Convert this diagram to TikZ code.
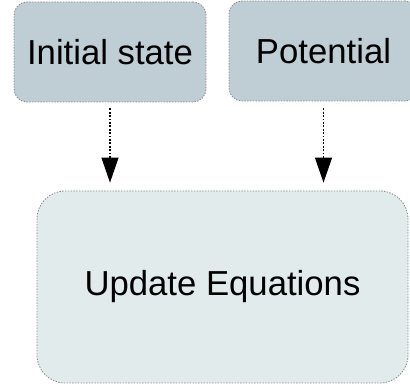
\documentclass[tikz,border=0pt]{standalone}
\usepackage{fontspec}
\setmainfont{Liberation Sans}
\usetikzlibrary{arrows.meta}
\definecolor{topfill}{HTML}{BFCDD5}
\definecolor{lowfill}{HTML}{E2EBEB}
\definecolor{edgegray}{HTML}{8A8A8A}
\tikzset{
  box/.style={draw=edgegray, line width=0.8pt, dash pattern=on 1.4pt off 1.4pt,
    inner sep=0pt, font=\fontsize{34.7}{40}\selectfont},
  topbox/.style={box, fill=topfill, rounded corners=13pt,
    minimum width=192pt, minimum height=100pt},
  lowbox/.style={box, fill=lowfill, rounded corners=28pt,
    minimum width=371pt, minimum height=192pt},
  flow/.style={line width=1.2pt, dash pattern=on 1.8pt off 1.6pt,
    -{Triangle[length=25pt,width=17pt]}, shorten <=6pt, shorten >=8pt}
}
\begin{document}
\begin{tikzpicture}[x=1pt,y=1pt]
  \useasboundingbox (0,0) rectangle (410,-387);
  \clip (0,0) rectangle (410,-387);
  \node[topbox] (init) at (110,-52) {Initial state};
  \node[topbox, minimum width=189pt] (pot) at (323.5,-51) {Potential};
  \node[lowbox] (upd) at (222.5,-287) {Update Equations};
  \draw[flow] (init.south) -- (init.south |- upd.north);
  \draw[flow] ([yshift=-1pt]pot.south) -- (pot.south |- upd.north);
\end{tikzpicture}
\end{document}
